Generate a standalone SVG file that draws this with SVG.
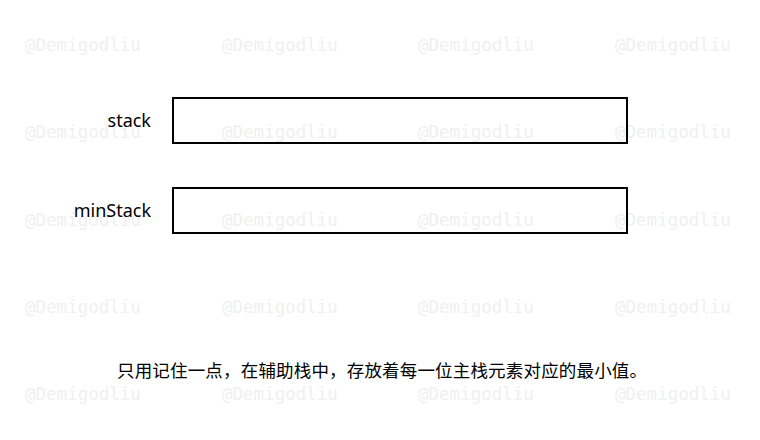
<svg xmlns="http://www.w3.org/2000/svg" width="760" height="440" viewBox="0 0 760 440">
<style>
.wm{font-family:"DejaVu Sans Mono","Liberation Mono",monospace;font-size:17.5px;fill:#f0f0f0}
.lbl{font-family:"Noto Sans","Liberation Sans",sans-serif;font-size:18px;fill:#000;text-anchor:end}
.box{fill:none;stroke:#000;stroke-width:2}
.cap{font-family:"Noto Sans CJK SC",sans-serif;font-size:17.5px;fill:#000}
</style>
<rect width="760" height="440" fill="#fff"/>
<g id="watermark">
<text class="wm" x="25" y="51">@Demigodliu</text><text class="wm" x="222" y="51">@Demigodliu</text><text class="wm" x="418" y="51">@Demigodliu</text><text class="wm" x="615" y="51">@Demigodliu</text>
<text class="wm" x="25" y="138">@Demigodliu</text><text class="wm" x="222" y="138">@Demigodliu</text><text class="wm" x="418" y="138">@Demigodliu</text><text class="wm" x="615" y="138">@Demigodliu</text>
<text class="wm" x="25" y="226">@Demigodliu</text><text class="wm" x="222" y="226">@Demigodliu</text><text class="wm" x="418" y="226">@Demigodliu</text><text class="wm" x="615" y="226">@Demigodliu</text>
<text class="wm" x="25" y="313">@Demigodliu</text><text class="wm" x="222" y="313">@Demigodliu</text><text class="wm" x="418" y="313">@Demigodliu</text><text class="wm" x="615" y="313">@Demigodliu</text>
<text class="wm" x="25" y="400">@Demigodliu</text><text class="wm" x="222" y="400">@Demigodliu</text><text class="wm" x="418" y="400">@Demigodliu</text><text class="wm" x="615" y="400">@Demigodliu</text>
</g>
<g id="stack">
<rect class="box" x="173" y="98" width="454" height="45"/>
<text class="lbl" x="151" y="127">stack</text>
</g>
<g id="minStack">
<rect class="box" x="173" y="188" width="454" height="45"/>
<text class="lbl" x="151" y="217">minStack</text>
</g>
<g id="connectors"/>
<g id="caption">
<text class="cap" x="117" y="377" textLength="530" lengthAdjust="spacing">只用记住一点，在辅助栈中，存放着每一位主栈元素对应的最小值。</text>
</g>
</svg>
